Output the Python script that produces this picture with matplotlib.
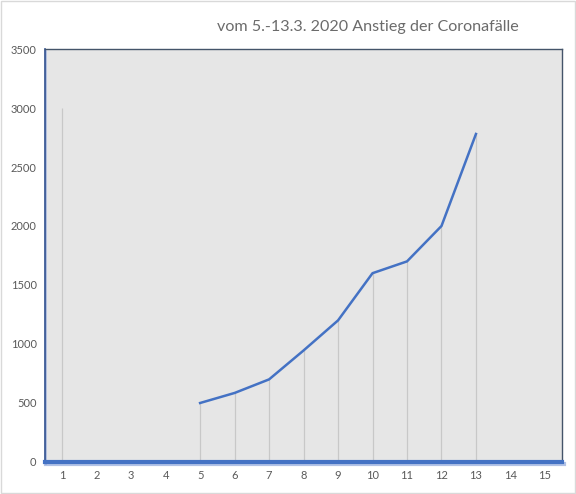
import numpy as np
import matplotlib
matplotlib.use("Agg")
import matplotlib.pyplot as plt
import matplotlib.patheffects as pe

# days of March 2020 and reported cases
days = [5, 6, 7, 8, 9, 10, 11, 12, 13]
cases = [500, 585, 700, 945, 1200, 1600, 1700, 2000, 2780]
# drop lines (x=1 carries a lone line up to 3000)
drop_x = [1] + days
drop_y = [3000] + cases
x_ticks = list(range(1, 16))
y_ticks = list(range(0, 3501, 500))

plt.rcParams['font.family'] = ['Lato', 'DejaVu Sans']

fig = plt.figure(figsize=(5.76, 4.94), dpi=100)
ax = fig.add_axes([0.078, 0.0648, 0.898, 0.836])
ax.set_facecolor('#e6e6e6')

ax.vlines(drop_x, 0, drop_y, color='#c8c8c8', linewidth=0.9, zorder=1)
ax.plot(days, cases, color='#4472c4', linewidth=1.8, zorder=3)

ax.set_xlim(0.5, 15.5)
ax.set_ylim(0, 3500)
ax.set_xticks(x_ticks)
ax.set_yticks(y_ticks)
ax.tick_params(length=0, labelsize=8, colors='#595959', pad=6)

shadow = [pe.SimpleLineShadow(offset=(1, -1.5), shadow_color='#7f9ad6', alpha=0.6), pe.Normal()]
for side in ['top', 'right']:
    ax.spines[side].set_color('#44546a')
    ax.spines[side].set_linewidth(1)
ax.spines['left'].set_color('#2f4f8f')
ax.spines['left'].set_linewidth(1.2)
ax.spines['left'].set_path_effects(shadow)
ax.spines['bottom'].set_color('#4472c4')
ax.spines['bottom'].set_linewidth(3)
ax.spines['bottom'].set_path_effects(shadow)
ax.spines['bottom'].set_zorder(4)

fig.text(0.9, 0.945, 'vom 5.-13.3. 2020 Anstieg der Coronafälle', ha='right', va='center',
         fontsize=11.6, color='#6b6b6b')

# light frame round the whole chart
fig.patches.append(plt.Rectangle((0.002, 0.002), 0.996, 0.996, transform=fig.transFigure,
                                 fill=False, edgecolor='#d9d9d9', linewidth=1))

fig.savefig('out.png', dpi=100)
